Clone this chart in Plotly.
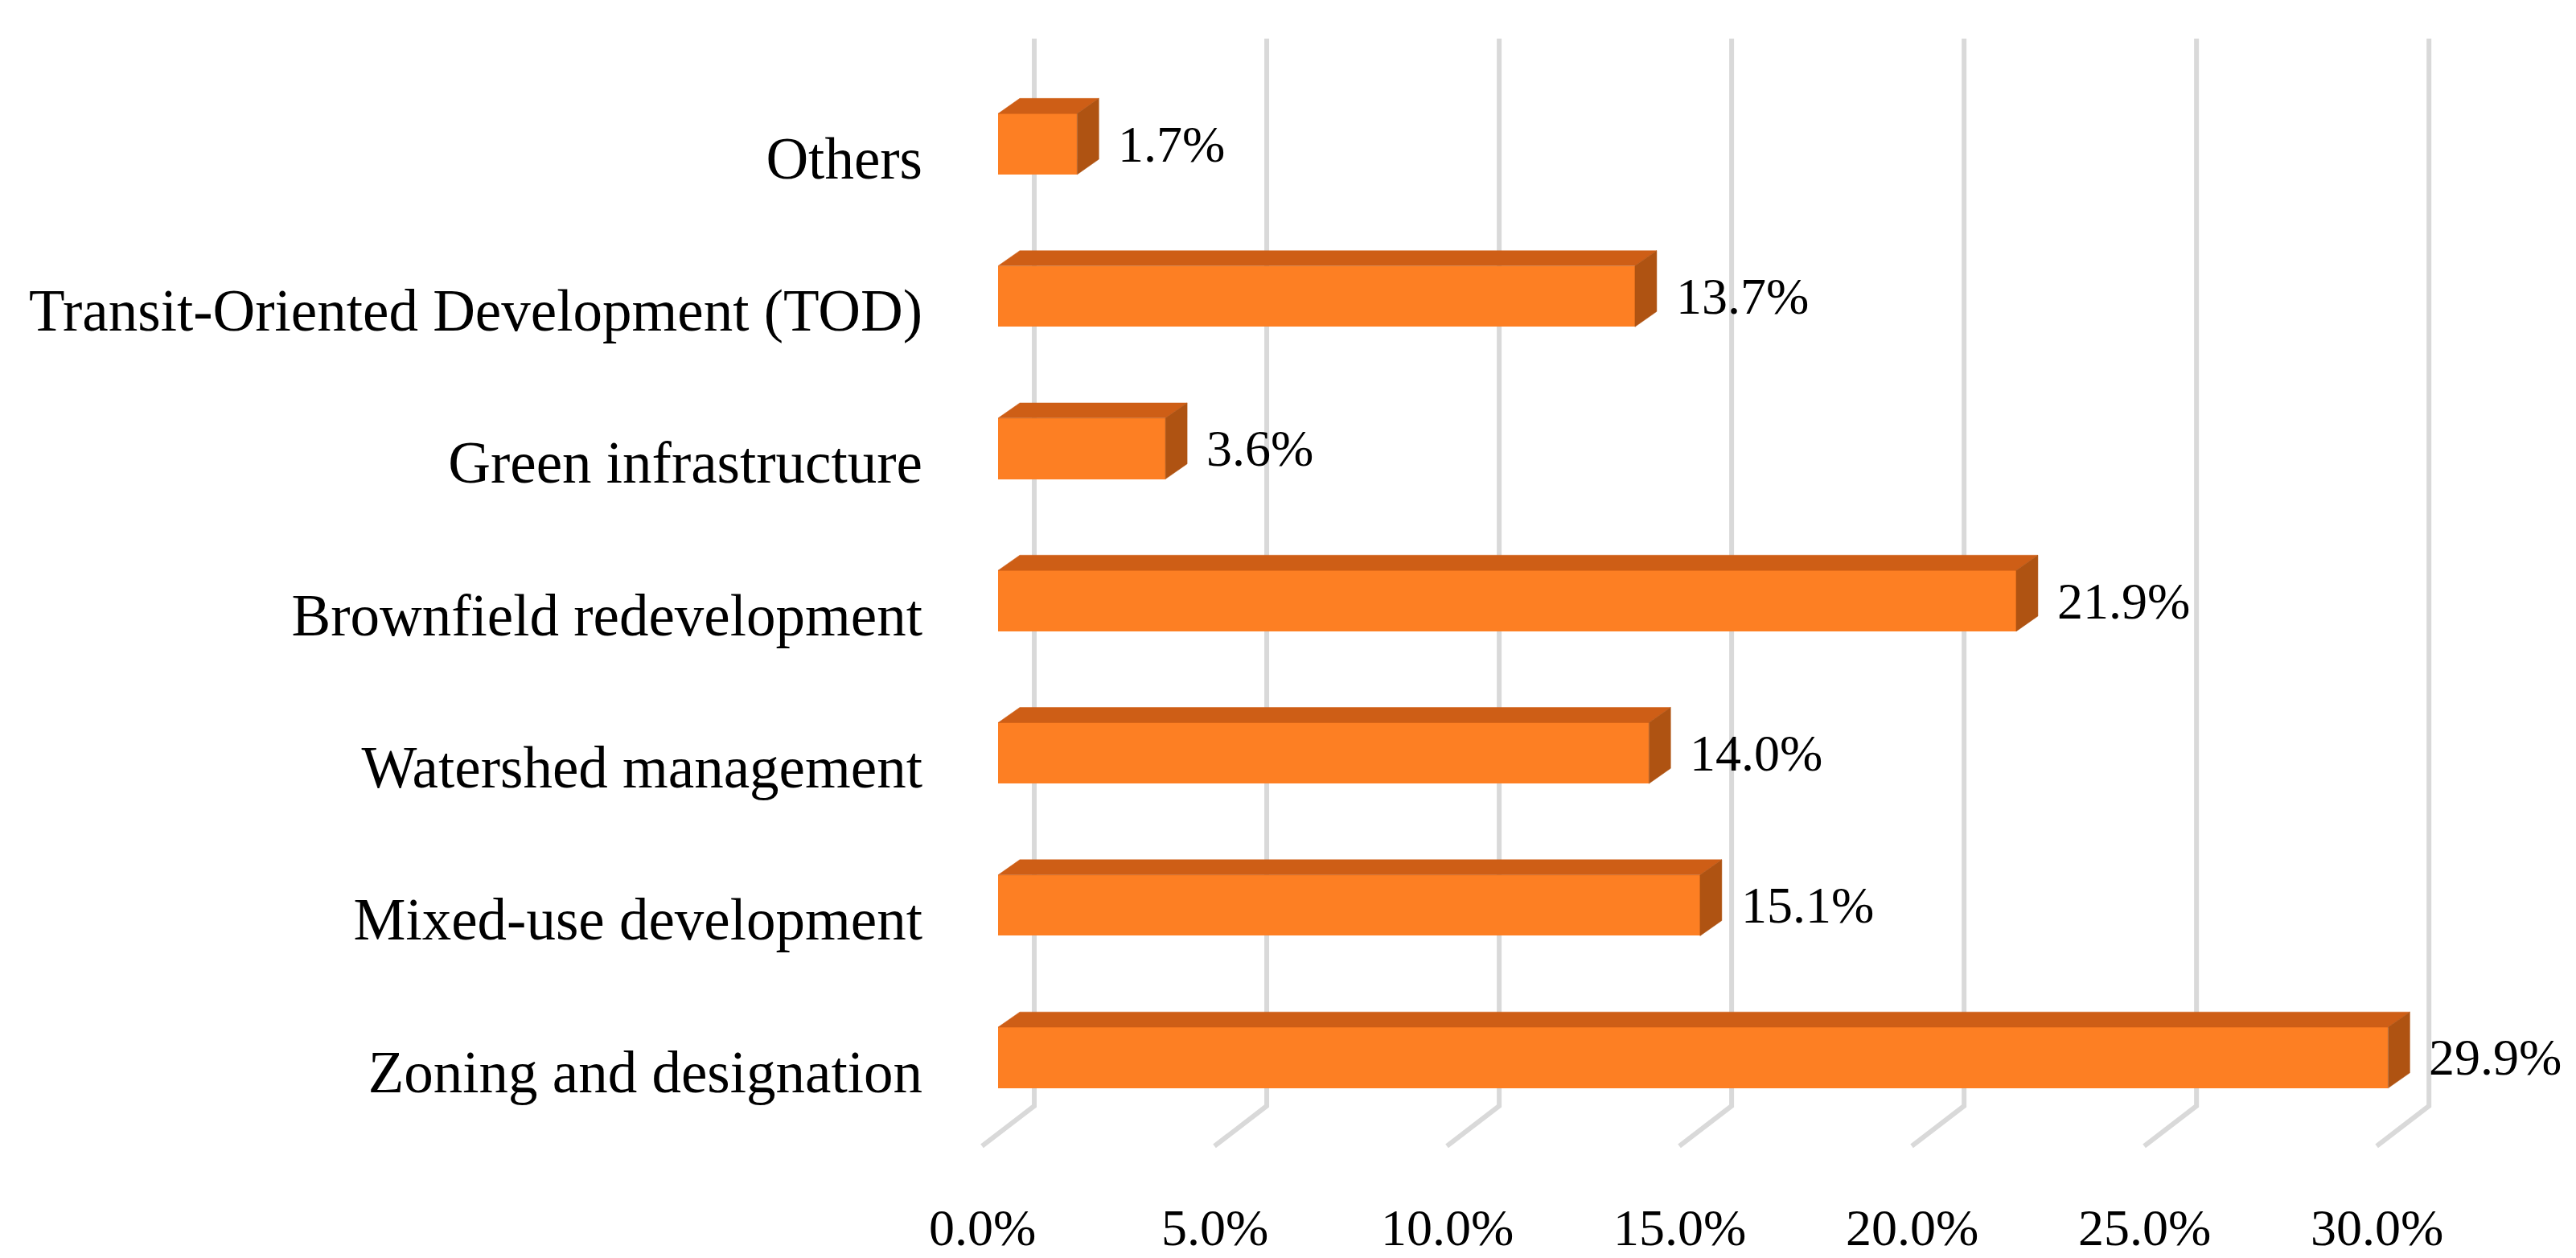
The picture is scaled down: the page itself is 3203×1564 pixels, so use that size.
import plotly.graph_objects as go

# ---- data (bottom to top) ----
categories = [
    "Zoning and designation",
    "Mixed-use development",
    "Watershed management",
    "Brownfield redevelopment",
    "Green infrastructure",
    "Transit-Oriented Development (TOD)",
    "Others",
]
values = [29.9, 15.1, 14.0, 21.9, 3.6, 13.7, 1.7]
tick_values = [0, 5, 10, 15, 20, 25, 30]
tick_labels = ["0.0%", "5.0%", "10.0%", "15.0%", "20.0%", "25.0%", "30.0%"]

# ---- style / pseudo-3D geometry (data units) ----
FRONT = "#FD7F23"
TOP = "#CE5E16"
SIDE = "#AF5312"
GRID = "#D9D9D9"
FONT = "Liberation Serif"

BAR_H = 0.40          # bar thickness (category units)
DEP_X = 0.467         # depth offset of bar top/side face in % units
DEP_Y = 0.100         # depth offset in category units
WALL_X = 0.779        # back wall offset (x)
FLOOR_FRONT_X = -0.346
FLOOR_BACK_Y = -0.317
FLOOR_FRONT_Y = -0.581
WALL_TOP_Y = 6.693
TICK_Y = -1.12

pos = list(range(len(categories)))

fig = go.Figure()

# gridlines (back wall verticals + floor diagonals), drawn beneath the bars
shapes = []
for t in tick_values:
    path = (f"M {t + WALL_X},{WALL_TOP_Y} L {t + WALL_X},{FLOOR_BACK_Y} "
            f"L {t + FLOOR_FRONT_X},{FLOOR_FRONT_Y}")
    shapes.append(dict(type="path", path=path, xref="x", yref="y", layer="below",
                       line=dict(color=GRID, width=6)))

# front faces
fig.add_trace(go.Bar(x=values, y=pos, orientation="h", width=BAR_H,
                     marker=dict(color=FRONT, line=dict(width=0)),
                     showlegend=False))

# top and side faces
for v, c in zip(values, pos):
    yt = c + BAR_H / 2
    yb = c - BAR_H / 2
    fig.add_trace(go.Scatter(
        x=[0, v, v + DEP_X, DEP_X, 0],
        y=[yt, yt, yt + DEP_Y, yt + DEP_Y, yt],
        fill="toself", fillcolor=TOP, mode="lines",
        line=dict(color=TOP, width=0.5), hoverinfo="skip", showlegend=False))
    fig.add_trace(go.Scatter(
        x=[v, v + DEP_X, v + DEP_X, v, v],
        y=[yb, yb + DEP_Y, yt + DEP_Y, yt, yb],
        fill="toself", fillcolor=SIDE, mode="lines",
        line=dict(color=SIDE, width=0.5), hoverinfo="skip", showlegend=False))

annotations = []
# value labels
for v, c in zip(values, pos):
    annotations.append(dict(x=v + DEP_X, y=c, text=f"{v:.1f}%", showarrow=False,
                            xanchor="left", yanchor="middle", xshift=22,
                            font=dict(family=FONT, size=64, color="black")))
# x tick labels along the floor front edge
for t, lab in zip(tick_values, tick_labels):
    annotations.append(dict(x=t + FLOOR_FRONT_X, y=TICK_Y, text=lab, showarrow=False,
                            xanchor="center", yanchor="middle",
                            font=dict(family=FONT, size=64, color="black")))

fig.update_layout(
    width=3203, height=1564,
    margin=dict(l=1160, r=0, t=0, b=0),
    paper_bgcolor="white", plot_bgcolor="white",
    bargap=0,
    shapes=shapes,
    annotations=annotations,
    xaxis=dict(range=[-1.263, 34.08], visible=False),
    yaxis=dict(range=[-1.358, 6.904], tickmode="array",
               tickvals=[c - 0.09 for c in pos], ticktext=categories,
               showgrid=False, zeroline=False, showline=False, ticks="",
               ticklabelstandoff=20,
               tickfont=dict(family=FONT, size=73, color="black")),
)

fig.write_html("out.html")
